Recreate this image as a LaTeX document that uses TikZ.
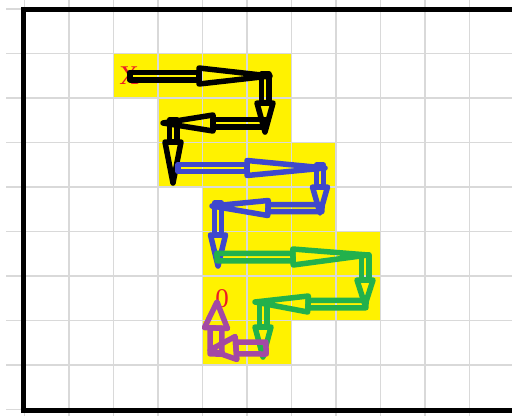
\documentclass[tikz,border=0pt]{standalone}
\usepackage{fontspec}
\setmainfont{Liberation Serif}
\usetikzlibrary{calc}
\definecolor{pyellow}{RGB}{255,242,0}
\definecolor{pblue}{RGB}{63,72,204}
\definecolor{pgreen}{RGB}{34,177,76}
\definecolor{ppurple}{RGB}{163,73,164}
\definecolor{pred}{RGB}{237,28,36}
\definecolor{gridgray}{RGB}{217,217,217}
\tikzset{
  arr/.style={line width=5.5pt, line join=round, line cap=round},
  cell/.style={fill=pyellow},
  gridline/.style={draw=gridgray, line width=1.3pt},
  frame/.style={draw=black, line width=5pt},
  lab/.style={text=pred, font=\fontsize{27}{27}\selectfont, inner sep=0pt},
}
% #1 colour, #2 start, #3 head base, #4 tip, #5 shaft half-width, #6 head half-width
\newcommand\blockarr[6]{%
  \draw[arr,#1] ($(#2)!#5pt!90:(#4)$) -- ($(#3)!#5pt!90:(#4)$) -- ($(#3)!#5pt!-90:(#4)$) -- ($(#2)!#5pt!-90:(#4)$) -- cycle;
  \draw[arr,#1] ($(#3)!#6pt!90:(#4)$) -- (#4) -- ($(#3)!#6pt!-90:(#4)$) -- cycle;
}
\begin{document}
\begin{tikzpicture}[x=1pt,y=-1pt]
\useasboundingbox (0,0) rectangle (512,416);
\clip (0,0) rectangle (512,416);
\fill[white] (0,0) rectangle (512,416);
% yellow cells
\fill[cell] (113.5,53.5) rectangle (291.5,98);
\fill[cell] (158,98) rectangle (291.5,142.5);
\fill[cell] (158,142.5) rectangle (336,187);
\fill[cell] (202.5,187) rectangle (336,231.5);
\fill[cell] (202.5,231.5) rectangle (380.5,276);
\fill[cell] (202.5,276) rectangle (380.5,320.5);
\fill[cell] (202.5,320.5) rectangle (291.5,365);
% grid
\foreach \k in {0,...,11} \draw[gridline] ({24.5+44.5*\k},0) -- ({24.5+44.5*\k},416);
\foreach \k in {0,...,9} \draw[gridline] (6,{9+44.5*\k}) -- (512,{9+44.5*\k});
% frame
\draw[frame] (23,413) -- (23,9.5) -- (530,9.5);
\draw[frame] (20.5,410) -- (530,410);
% labels
\node[lab] (xlab) at (129,76) {X};
\node[lab] (olab) at (222,299) {0};
% arrow points
\coordinate (a1s) at (130,76);  \coordinate (a1b) at (199,76);  \coordinate (a1t) at (270,76);
\coordinate (a2s) at (265,74);  \coordinate (a2b) at (265,103); \coordinate (a2t) at (265,132);
\coordinate (a3s) at (266,123); \coordinate (a3b) at (213,123); \coordinate (a3t) at (163,123);
\coordinate (a4s) at (173,120); \coordinate (a4b) at (173,142); \coordinate (a4t) at (173,183);
\coordinate (a5s) at (178,168); \coordinate (a5b) at (247,168); \coordinate (a5t) at (325,168);
\coordinate (a6s) at (320,165); \coordinate (a6b) at (320,187); \coordinate (a6t) at (320,213);
\coordinate (a7s) at (322,208); \coordinate (a7b) at (268,208); \coordinate (a7t) at (212,206);
\coordinate (a8s) at (218,203); \coordinate (a8b) at (218,235); \coordinate (a8t) at (218,266);
\coordinate (a9s) at (217,257); \coordinate (a9b) at (293,257); \coordinate (a9t) at (368,255);
\coordinate (a10s) at (365,255); \coordinate (a10b) at (365,280); \coordinate (a10t) at (365,305);
\coordinate (a11s) at (366,304); \coordinate (a11b) at (308,304); \coordinate (a11t) at (255,302);
\coordinate (a12s) at (263,302); \coordinate (a12b) at (263,327); \coordinate (a12t) at (263,357);
\coordinate (a13s) at (266,348); \coordinate (a13b) at (236,348); \coordinate (a13t) at (210,350);
\coordinate (a14s) at (216,354); \coordinate (a14b) at (216,328); \coordinate (a14t) at (217,302);
% arrows
\blockarr{black}{a1s}{a1b}{a1t}{3.75}{8}
\blockarr{black}{a2s}{a2b}{a2t}{3.75}{8}
\blockarr{black}{a3s}{a3b}{a3t}{3.75}{8}
\blockarr{black}{a4s}{a4b}{a4t}{3.75}{8}
\blockarr{pblue}{a5s}{a5b}{a5t}{3.5}{7.5}
\blockarr{pblue}{a6s}{a6b}{a6t}{3.5}{7.5}
\blockarr{pblue}{a7s}{a7b}{a7t}{3.5}{7.5}
\blockarr{pblue}{a8s}{a8b}{a8t}{3.5}{7.5}
\blockarr{pgreen}{a9s}{a9b}{a9t}{3.75}{8}
\blockarr{pgreen}{a10s}{a10b}{a10t}{3.75}{8}
\blockarr{pgreen}{a11s}{a11b}{a11t}{3.75}{8}
\blockarr{pgreen}{a12s}{a12b}{a12t}{3.75}{8}
\blockarr{ppurple}{a13s}{a13b}{a13t}{6}{11.5}
\blockarr{ppurple}{a14s}{a14b}{a14t}{6}{11.5}
\end{tikzpicture}
\end{document}
